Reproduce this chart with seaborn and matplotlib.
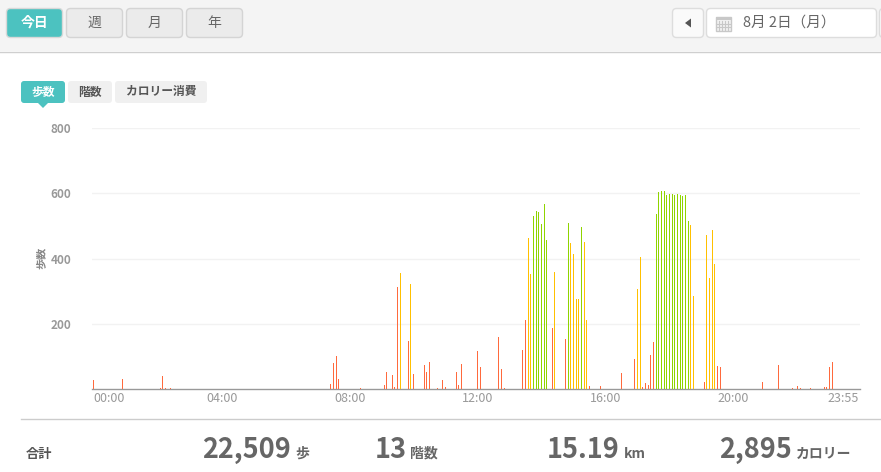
import pandas as pd
import seaborn as sns
import matplotlib.pyplot as plt
from matplotlib.patches import FancyBboxPatch, Polygon, Rectangle

W, H = 881, 472

# 5 minute slots and steps per slot
slots = [0, 11, 25, 26, 27, 29, 89, 90, 91, 92, 100, 109, 110, 112, 113, 114, 115, 118, 119, 120,
         124, 125, 126, 129, 131, 132, 136, 137, 138, 144, 145, 152, 153, 154, 161, 162, 163, 164,
         165, 166, 167, 168, 169, 170, 172, 173, 177, 178, 179, 180, 181, 182, 183, 184, 185, 186,
         190, 198, 203, 204, 205, 206, 207, 208, 209, 210, 211, 212, 213, 214, 215, 216, 217, 218,
         219, 220, 221, 222, 223, 224, 225, 229, 230, 231, 232, 233, 234, 235, 251, 257, 262, 264,
         265, 269, 274, 275, 276, 277]
steps = [28, 31, 3, 41, 3, 3, 15, 80, 102, 31, 3, 12, 53, 43, 6, 313, 355, 148, 322, 47,
         73, 53, 84, 3, 29, 6, 53, 12, 78, 117, 68, 160, 62, 3, 120, 212, 463, 353,
         530, 546, 543, 506, 567, 457, 188, 359, 154, 509, 448, 414, 276, 276, 497, 451, 212, 9,
         9, 50, 93, 307, 405, 6, 19, 13, 105, 145, 537, 604, 607, 607, 595, 598, 598, 595,
         598, 595, 592, 595, 515, 503, 286, 22, 472, 341, 488, 384, 71, 68, 22, 74, 3, 9,
         3, 3, 6, 6, 68, 84]
# everything else is the slow colour
medium_slots = [115, 119, 163, 164, 173, 179, 180, 181, 182, 184, 185, 204, 205, 224, 225, 230, 231, 232, 233]
fast_slots = [165, 166, 167, 168, 169, 170, 178, 183, 211, 212, 213, 214, 215, 216, 217, 218, 219, 220, 221, 222, 223]
pace_colors = {"slow": "#FF6A3D", "medium": "#FFC000", "fast": "#8FD400"}

y_ticks = [200, 400, 600, 800]
x_ticks = [0, 48, 96, 144, 192, 240, 287]
x_labels = ["00:00", "04:00", "08:00", "12:00", "16:00", "20:00", "23:55"]

tabs = ["今日", "週", "月", "年"]
metric_tabs = ["歩数", "階数", "カロリー消費"]

plt.rcParams["font.family"] = ["Noto Sans CJK JP", "DejaVu Sans"]

fig = plt.figure(figsize=(W / 100, H / 100), dpi=100, facecolor="white")

# page furniture, in pixels
bg = fig.add_axes([0, 0, 1, 1], zorder=0)
bg.set_xlim(0, W)
bg.set_ylim(H, 0)
bg.axis("off")


def box(x, y, w, h, face, edge="none", r=4):
    bg.add_patch(FancyBboxPatch((x + r, y + r), w - 2 * r, h - 2 * r, boxstyle=f"round,pad={r}",
                                fc=face, ec=edge, lw=1))


bg.add_patch(Rectangle((0, 0), W, 51, fc="#F4F4F4", ec="none"))
bg.plot([0, W], [51.5, 51.5], color="#CFCFCF", lw=1)
bg.plot([21, W], [419, 419], color="#CCCCCC", lw=1)

for i, t in enumerate(tabs):
    x = 6.5 + 60 * i
    if i == 0:
        box(x, 8.5, 56, 29, "#4CC2C0", "#D8D8D8")
        bg.text(x + 28, 22.5, t, ha="center", va="center", fontsize=10, color="white", weight="bold")
    else:
        box(x, 8.5, 56, 29, "#EBEBEB", "#D4D4D4")
        bg.text(x + 28, 22.5, t, ha="center", va="center", fontsize=10, color="#666666")

box(672.5, 8.5, 31, 29, "#FAFAFA", "#DDDDDD")
bg.add_patch(Polygon([[685, 23], [691, 18.5], [691, 27.5]], fc="#555555", ec="none"))
box(706.5, 8.5, 170, 29, "white", "#DDDDDD")
bg.add_patch(Rectangle((715.5, 17), 15, 14, fc="#F2F2F2", ec="#C8C8C8", lw=1))
bg.add_patch(Rectangle((715.5, 17), 15, 3, fc="#C8C8C8", ec="none"))
for gx in [719, 722, 725, 728]:
    bg.plot([gx, gx], [21, 30], color="#C8C8C8", lw=0.8)
for gy in [24, 27]:
    bg.plot([716, 730], [gy, gy], color="#C8C8C8", lw=0.8)
bg.text(743, 22.5, "8月 2日（月）", ha="left", va="center", fontsize=10.5, color="#666666")
box(879.5, 8.5, 20, 29, "#FAFAFA", "#DDDDDD")

box(21, 81, 44, 22, "#4CC2C0", r=3)
bg.add_patch(Polygon([[38, 103], [48, 103], [43, 108]], fc="#4CC2C0", ec="none"))
bg.text(43, 92, metric_tabs[0], ha="center", va="center", fontsize=8.5, color="white", weight="bold")
box(68, 81, 44, 22, "#F0F0F0", r=3)
bg.text(90, 92, metric_tabs[1], ha="center", va="center", fontsize=8.5, color="#555555", weight="bold")
box(115, 81, 92, 22, "#F0F0F0", r=3)
bg.text(161, 92, metric_tabs[2], ha="center", va="center", fontsize=8.5, color="#555555", weight="bold")

bg.text(41, 258, "歩数", rotation=90, ha="center", va="center", fontsize=8, color="#888888", weight="bold")

bg.text(26, 454, "合計", ha="left", va="center", fontsize=9.5, color="#555555", weight="bold")
for x, val, x2, unit in [(202, "22,509", 295, "歩"), (375, "13", 410, "階数"),
                         (547, "15.19", 624, "km"), (719, "2,895", 796, "カロリー")]:
    bg.text(x, 450, val, ha="left", va="center", fontsize=19.5, color="#666666", weight="bold")
    bg.text(x2, 453.5, unit, ha="left", va="center", fontsize=10, color="#666666", weight="bold")

# the chart itself
ax = fig.add_axes([92 / W, 1 - 389 / H, 768 / W, 261 / H], zorder=1)
ax.patch.set_alpha(0)
df = pd.DataFrame({"slot": slots, "steps": steps})
df["pace"] = "slow"
df.loc[df["slot"].isin(medium_slots), "pace"] = "medium"
df.loc[df["slot"].isin(fast_slots), "pace"] = "fast"
sns.barplot(data=df, x="slot", y="steps", hue="pace", palette=pace_colors, native_scale=True,
            dodge=False, width=0.4, linewidth=0, saturation=1, legend=False, ax=ax, zorder=3)

ax.set_xlim(-0.6, 287.4)
ax.set_ylim(0, 800)
ax.set_xlabel("")
ax.set_ylabel("")
ax.set_yticks(y_ticks)
ax.set_xticks(x_ticks)
ax.set_xticklabels(x_labels)
ax.grid(axis="y", color="#F2F2F2", lw=1, zorder=0)
ax.set_axisbelow(True)
ax.tick_params(axis="both", length=0)
ax.tick_params(axis="x", labelsize=9, labelcolor="#999999", pad=2.5)
ax.tick_params(axis="y", labelsize=8.5, labelcolor="#999999", pad=15)
for lab in ax.get_yticklabels():
    lab.set_fontweight("bold")
labs = ax.get_xticklabels()
labs[0].set_ha("left")
labs[-1].set_ha("right")
sns.despine(ax=ax, left=True, top=True, right=True)
ax.spines["bottom"].set_color("#999999")
ax.spines["bottom"].set_linewidth(1)

fig.savefig("out.png", dpi=100)
